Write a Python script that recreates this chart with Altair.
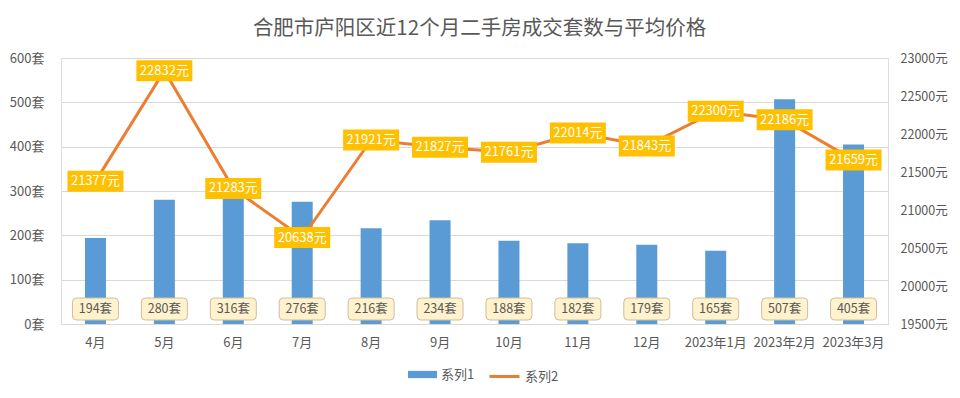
import altair as alt
import pandas as pd

months = ["4月", "5月", "6月", "7月", "8月", "9月", "10月", "11月", "12月",
          "2023年1月", "2023年2月", "2023年3月"]
counts = [194, 280, 316, 276, 216, 234, 188, 182, 179, 165, 507, 405]
prices = [21377, 22832, 21283, 20638, 21921, 21827, 21761, 22014, 21843, 22300, 22186, 21659]
count_ticks = [0, 100, 200, 300, 400, 500, 600]
price_ticks = [19500, 20000, 20500, 21000, 21500, 22000, 22500, 23000]

df = pd.DataFrame({
    "month": months,
    "count": counts,
    "price": prices,
    "count_label": [f"{c}套" for c in counts],
    "price_label": [f"{p}元" for p in prices],
    "s1": ["系列1"] * len(months),
    "s2": ["系列2"] * len(months),
})

FONT = "Noto Sans CJK SC"
GRAY = "#595959"

x = alt.X("month:N", sort=months, title=None,
          scale=alt.Scale(paddingInner=0, paddingOuter=0),
          axis=alt.Axis(labelAngle=0, ticks=False, domainColor="#D9D9D9",
                        labelColor=GRAY, labelFontSize=13, labelFont=FONT,
                        labelPadding=12, grid=False))

base = alt.Chart(df)

ycount = alt.Y("count:Q", title=None,
               scale=alt.Scale(domain=[0, 600], nice=False),
               axis=alt.Axis(values=count_ticks, labelExpr="datum.value + '套'",
                             domain=False, ticks=False, gridColor="#D9D9D9",
                             labelColor=GRAY, labelFontSize=13, labelFont=FONT,
                             labelPadding=17, labelOverlap=False))

bars = base.mark_bar(size=21, color="#5B9BD5").encode(
    x=x,
    y=ycount,
    fill=alt.Fill("s1:N", scale=alt.Scale(domain=["系列1"], range=["#5B9BD5"]),
                  legend=alt.Legend(title=None, orient="none", legendX=347, legendY=302,
                                    symbolType="M-1,-0.25H1V0.25H-1Z", symbolSize=841,
                                    labelFontSize=13, labelColor=GRAY, labelFont=FONT,
                                    symbolStrokeWidth=0)),
)

rbox = "M-19,-11H19Q23,-11 23,-7V7Q23,11 19,11H-19Q-23,11 -23,7V-7Q-23,-11 -19,-11Z"
bar_boxes = base.mark_point(shape=rbox, size=4, filled=True, fill="#FFF2CC",
                            stroke="#CDBF9E", strokeWidth=1, opacity=1).encode(
    x=x, y=alt.value(251))
bar_text = base.mark_text(fontSize=12.5, color=GRAY, font=FONT).encode(
    x=x, y=alt.value(251), text="count_label:N")

left = alt.layer(bars, bar_boxes, bar_text)

yprice = alt.Y("price:Q", title=None,
               scale=alt.Scale(domain=[19500, 23000], nice=False, zero=False),
               axis=alt.Axis(orient="right", values=price_ticks,
                             labelExpr="datum.value + '元'", grid=False,
                             domain=False, ticks=False, labelColor=GRAY,
                             labelFontSize=12.5, labelFont=FONT, labelPadding=12,
                             labelOverlap=False))

line = base.mark_line(strokeWidth=3, color="#ED7D31").encode(
    x=x,
    y=yprice,
    stroke=alt.Stroke("s2:N", scale=alt.Scale(domain=["系列2"], range=["#ED7D31"]),
                      legend=alt.Legend(title=None, orient="none", legendX=427, legendY=302,
                                        symbolType="stroke", symbolSize=900,
                                        symbolStrokeWidth=3,
                                        labelFontSize=13, labelColor=GRAY, labelFont=FONT)),
)

pbox = "M-28,-10.5H28V10.5H-28Z"
price_boxes = base.mark_point(shape=pbox, size=4, filled=True, fill="#FFC000",
                              strokeWidth=0, opacity=1).encode(x=x, y=yprice)
price_text = base.mark_text(fontSize=13, color="white", font=FONT).encode(
    x=x, y=yprice, text="price_label:N")

right = alt.layer(line, price_boxes, price_text)

chart = alt.layer(left, right).resolve_scale(
    y="independent", fill="independent", stroke="independent"
).properties(
    width=827, height=266,
    autosize=alt.AutoSizeParams(type="none"),
    padding={"left": 53, "top": 50, "right": 64, "bottom": 66},
    title=alt.TitleParams("合肥市庐阳区近12个月二手房成交套数与平均价格",
                          fontSize=20.5, color=GRAY, font=FONT, fontWeight="normal",
                          anchor="middle", dx=5, offset=13),
).configure_view(stroke=None).configure(background="white")

chart.save("out.html", embed_options={"renderer": "svg", "actions": False})
